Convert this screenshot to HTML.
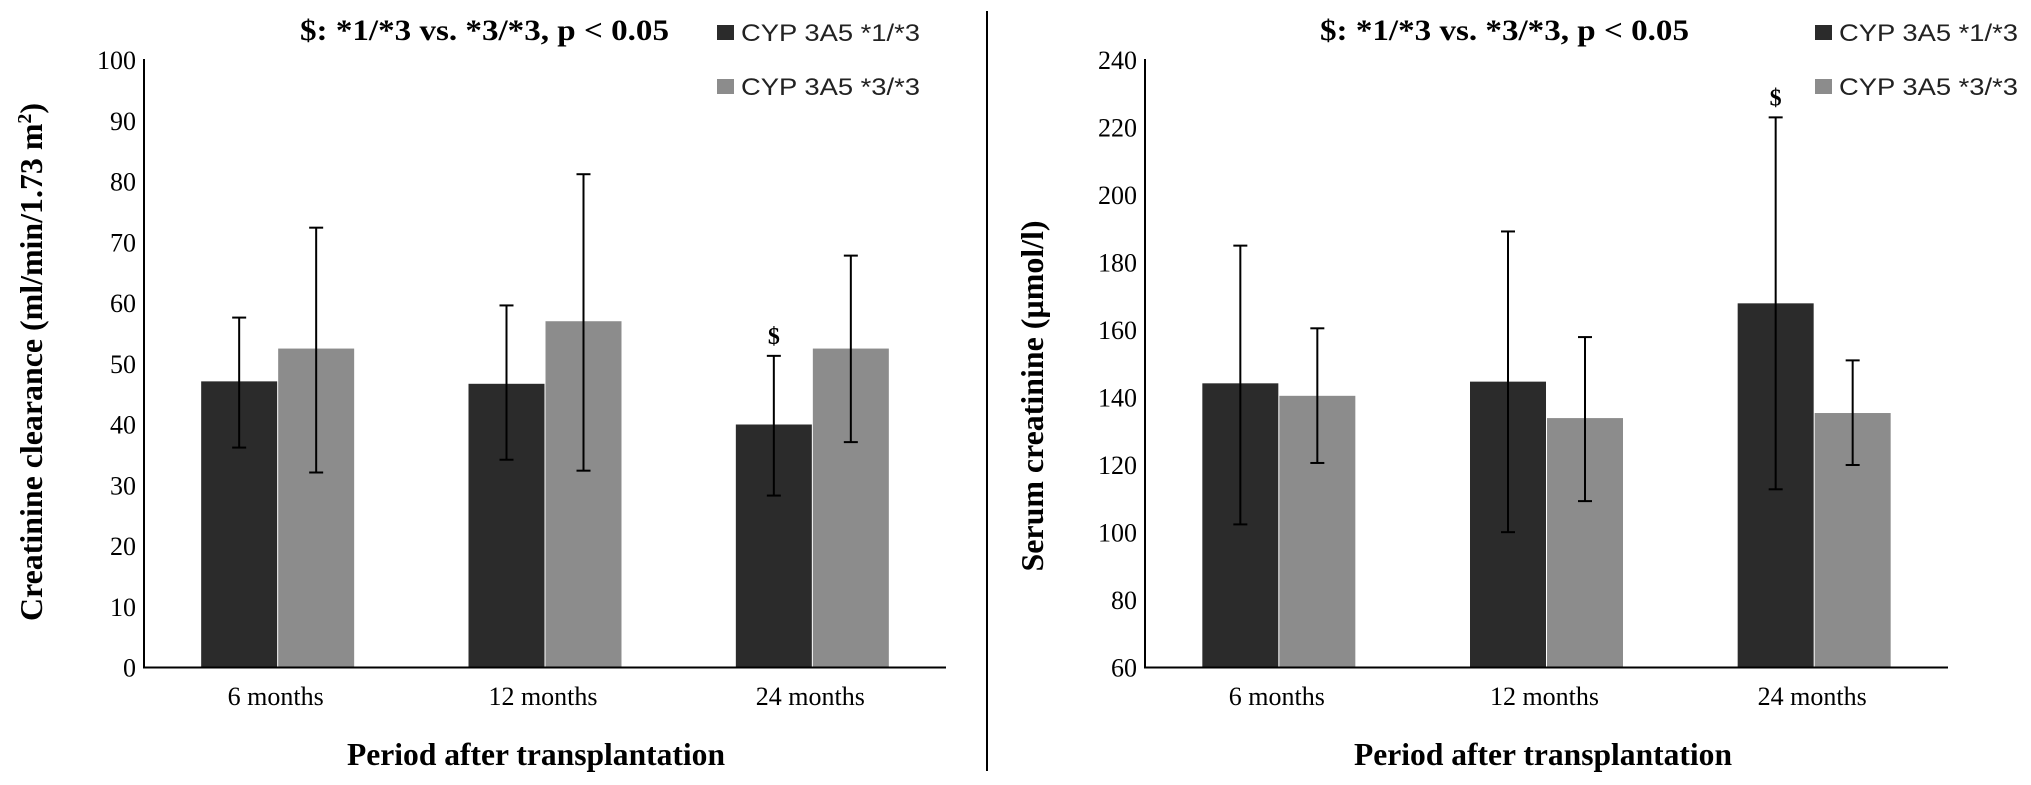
<!DOCTYPE html>
<html><head><meta charset="utf-8"><style>
html,body{margin:0;padding:0;background:#fff;}
svg{display:block;}
</style></head><body>
<svg id="chart" width="2031" height="785" viewBox="0 0 2031 785" xmlns="http://www.w3.org/2000/svg">
<line x1="987" y1="11" x2="987" y2="771" stroke="#000" stroke-width="2"/>
</svg>
<script>
const categories = ["6 months","12 months","24 months"];
const seriesNames = ["CYP 3A5 *1/*3","CYP 3A5 *3/*3"];
// Left panel: creatinine clearance
const ccDark = [47.1, 46.7, 40.0];
const ccDarkHi = [57.6, 59.6, 51.3];
const ccDarkLo = [36.2, 34.2, 28.3];
const ccLight = [52.5, 57.0, 52.5];
const ccLightHi = [72.4, 81.2, 67.8];
const ccLightLo = [32.1, 32.4, 37.1];
const ccTicks = [0,10,20,30,40,50,60,70,80,90,100];
const ccSig = [false,false,true];
// Right panel: serum creatinine
const scDark = [144.2, 144.7, 167.9];
const scDarkHi = [185.0, 189.2, 223.0];
const scDarkLo = [102.4, 100.1, 112.8];
const scLight = [140.5, 133.9, 135.4];
const scLightHi = [160.5, 157.9, 151.0];
const scLightLo = [120.6, 109.3, 120.0];
const scTicks = [60,80,100,120,140,160,180,200,220,240];
const scSig = [false,false,true];

const NS="http://www.w3.org/2000/svg";
const svg=document.getElementById('chart');
function mk(tag,attrs,parent){const e=document.createElementNS(NS,tag);for(const k in attrs)e.setAttribute(k,attrs[k]);(parent||svg).appendChild(e);return e;}
const serif='"Liberation Serif", serif', sans='"Liberation Sans", sans-serif';
const COLORS=["#2b2b2b","#8c8c8c"];

function panel(cfg){
  const g=mk('g',{});
  
  
  const x0=cfg.x0,x1=cfg.x1,yB=667.5,yT=60;
  const ymin=cfg.ticks[0],ymax=cfg.ticks[cfg.ticks.length-1];
  const y=v=>yB-(v-ymin)/(ymax-ymin)*(yB-yT);
  const cw=(x1-x0)/categories.length;
  const cx=i=>x0+cw*(i+0.5);
  const bw=76;
  // ticks
  cfg.ticks.forEach(t=>{
    const tx=mk('text',{x:x0-8,y:y(t)+9,'text-anchor':'end','font-family':serif,'font-size':26,fill:'#000'},g);
    tx.textContent=t;
    
    
  });
  const series=[[cfg.d,cfg.dh,cfg.dl],[cfg.l,cfg.lh,cfg.ll]];
  categories.forEach((c,i)=>{
    series.forEach((s,k)=>{
      const bx=k===0?cx(i)-bw-0.5:cx(i)+0.5;
      const r=mk('rect',{x:bx,y:y(s[0][i]),width:bw,height:yB-y(s[0][i]),fill:COLORS[k]},g);
      
      
      const ex=bx+bw/2;
      const eg=mk('g',{stroke:'#000','stroke-width':2},g);
      
      
      mk('line',{x1:ex,x2:ex,y1:y(s[1][i]),y2:y(s[2][i])},eg);
      mk('line',{x1:ex-7,x2:ex+7,y1:y(s[1][i]),y2:y(s[1][i])},eg);
      mk('line',{x1:ex-7,x2:ex+7,y1:y(s[2][i]),y2:y(s[2][i])},eg);
      if(k===0&&cfg.sig[i]){
        const st=mk('text',{x:ex,y:y(s[1][i])-12,'text-anchor':'middle','font-family':serif,'font-weight':'bold','font-size':24,fill:'#000'},g);
        st.textContent='$';
        
        
      }
    });
    const xl=mk('text',{x:cx(i)-2,y:705,'text-anchor':'middle','font-family':serif,'font-size':26,fill:'#000'},g);
    xl.textContent=c;
    
    
  });
  const ya=mk('line',{x1:x0,y1:yT-1,x2:x0,y2:yB+1,stroke:'#000','stroke-width':2},g);
  
  
  const xa=mk('line',{x1:x0-1,y1:yB,x2:x1,y2:yB,stroke:'#000','stroke-width':2},g);
  
  
  // title
  const tt=mk('text',{x:cfg.titleX,y:40,'font-family':serif,'font-weight':'bold','font-size':30,fill:'#000',textLength:369,lengthAdjust:'spacingAndGlyphs'},g);
  tt.textContent='$: *1/*3 vs. *3/*3, p < 0.05';
  
  
  // x axis title
  const xt=mk('text',{x:cfg.xtX,y:765,'font-family':serif,'font-weight':'bold','font-size':32,fill:'#000',textLength:378,lengthAdjust:'spacingAndGlyphs'},g);
  xt.textContent='Period after transplantation';
  
  
  // y axis title
  const yt=mk('text',{x:0,y:0,'text-anchor':'middle','font-family':serif,'font-weight':'bold','font-size':32,fill:'#000',textLength:cfg.ytLen,lengthAdjust:'spacingAndGlyphs',transform:`translate(${cfg.ytX},${cfg.ytY}) rotate(-90)`},g);
  yt.innerHTML=cfg.ytText;
  
  
  // legend
  seriesNames.forEach((n,k)=>{
    const lg=mk('g',{},g);
    
    
    mk('rect',{x:cfg.legX,y:25+k*54,width:17,height:15,fill:COLORS[k]},lg);
    const lt=mk('text',{x:cfg.legX+24,y:41+k*54,'font-family':sans,'font-size':24,fill:'#222',textLength:179,lengthAdjust:'spacingAndGlyphs'},lg);
    lt.textContent=n;
  });
}
panel({name:'clearance-panel',x0:144,x1:946,ticks:ccTicks,d:ccDark,dh:ccDarkHi,dl:ccDarkLo,l:ccLight,lh:ccLightHi,ll:ccLightLo,sig:ccSig,
  titleX:300,xtX:347,ytX:42,ytY:362,ytLen:518,ytText:'Creatinine clearance (ml/min/1.73 m<tspan baseline-shift="super" font-size="20">2</tspan>)',legX:717});
panel({name:'serum-panel',x0:1145,x1:1948,ticks:scTicks,d:scDark,dh:scDarkHi,dl:scDarkLo,l:scLight,lh:scLightHi,ll:scLightLo,sig:scSig,
  titleX:1320,xtX:1354,ytX:1043,ytY:396,ytLen:351,ytText:'Serum creatinine (µmol/l)',legX:1815});
</script>
</body></html>
